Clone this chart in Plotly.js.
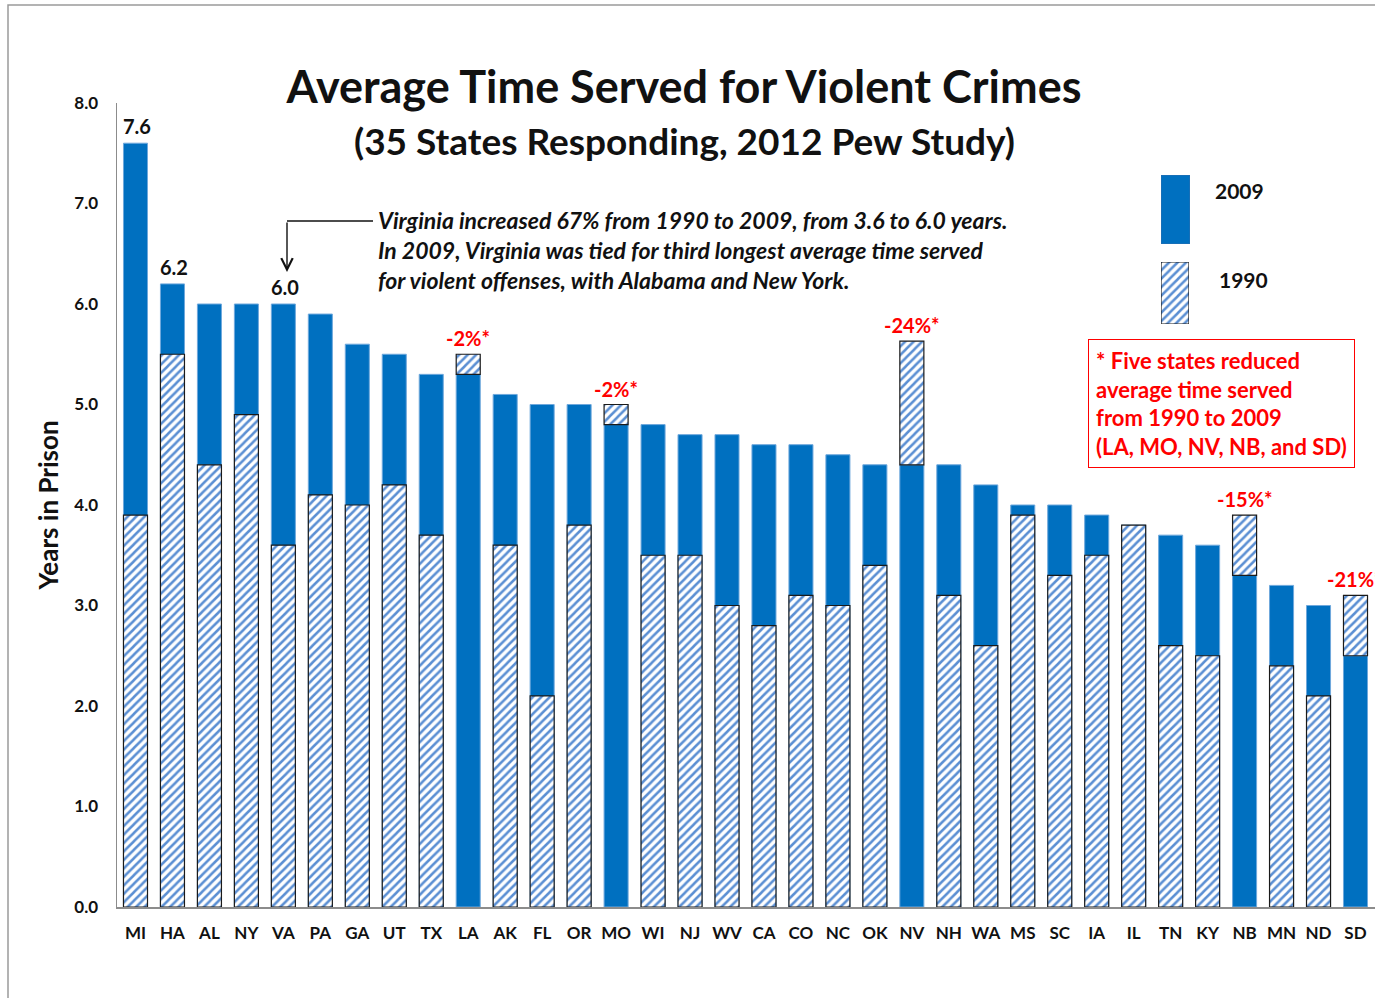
<!DOCTYPE html>
<html>
<head>
<meta charset="utf-8">
<script src="https://cdn.plot.ly/plotly-3.0.1.min.js"></script>
<style>
  html, body { margin: 0; padding: 0; background: #fff; }
  #chart { width: 1375px; height: 998px; }
</style>
</head>
<body>
<div id="chart"></div>
<script>
// Average time served (years) for violent offenses, by state
const states = ['MI','HA','AL','NY','VA','PA','GA','UT','TX','LA','AK','FL','OR','MO','WI','NJ','WV',
                'CA','CO','NC','OK','NV','NH','WA','MS','SC','IA','IL','TN','KY','NB','MN','ND','SD'];
const years2009 = [7.6,6.2,6.0,6.0,6.0,5.9,5.6,5.5,5.3,5.3,5.1,5.0,5.0,4.8,4.8,4.7,4.7,
                   4.6,4.6,4.5,4.4,4.4,4.4,4.2,4.0,4.0,3.9,3.8,3.7,3.6,3.3,3.2,3.0,2.5];
const years1990 = [3.9,5.5,4.4,4.9,3.6,4.1,4.0,4.2,3.7,5.5,3.6,2.1,3.8,5.0,3.5,3.5,3.0,
                   2.8,3.1,3.0,3.4,5.63,3.1,2.6,3.9,3.3,3.5,3.8,2.6,2.5,3.9,2.4,2.1,3.1];

// States whose 2009 value is printed above the bar
const valueLabelStates = ['MI','HA','VA'];
// States that reduced time served, with their printed change
const reducedStates = ['LA','MO','NV','NB','SD'];
const reducedText = ['-2%*','-2%*','-24%*','-15%*','-21%*'];

const yTickVals = [0,1,2,3,4,5,6,7,8];
const yTickText = ['0.0','1.0','2.0','3.0','4.0','5.0','6.0','7.0','8.0'];

const BLUE = '#0070C0';
const HATCH = '#5b8fd3';
const FONT = 'Lato, "Open Sans", sans-serif';

// Plot area in pixels (used to place paper-referenced decorations)
const W = 1375, H = 998;
const M = {l: 117, r: 0, t: 103, b: 91};
const PW = W - M.l - M.r, PH = H - M.t - M.b;
const px = x => (x - M.l) / PW;
const py = y => (H - M.b - y) / PH;

const hatchPattern = {shape: '/', fgcolor: HATCH, bgcolor: '#ffffff', size: 6, solidity: 0.42};

// 1990 bars: drawn from zero when below the 2009 value,
// otherwise only the part sitting above the 2009 bar
const base1990 = years1990.map((v, i) => v > years2009[i] ? years2009[i] : 0);
const height1990 = years1990.map((v, i) => v - base1990[i]);

const traces = [
  {
    type: 'bar', name: '2009', x: states, y: years2009,
    marker: {color: BLUE, line: {color: '#6fa8dc', width: 1}},
    hoverinfo: 'x+y'
  },
  {
    type: 'bar', name: '1990', x: states, y: height1990, base: base1990,
    marker: {color: '#ffffff', pattern: hatchPattern, line: {color: '#1a1a1a', width: 1.2}},
    customdata: years1990, hovertemplate: '%{x}: %{customdata}<extra>1990</extra>'
  },
  // legend swatches
  {
    type: 'bar', x: [0], y: [1], width: [1], xaxis: 'x2', yaxis: 'y2',
    marker: {color: BLUE, line: {color: '#2f6fae', width: 1}}, hoverinfo: 'skip', showlegend: false
  },
  {
    type: 'bar', x: [0], y: [1], width: [1], xaxis: 'x3', yaxis: 'y3',
    marker: {color: '#ffffff', pattern: hatchPattern, line: {color: '#1a1a1a', width: 1.2}},
    hoverinfo: 'skip', showlegend: false
  }
];

const annotations = [];

valueLabelStates.forEach(s => {
  const i = states.indexOf(s);
  annotations.push({
    x: s, y: years2009[i], xref: 'x', yref: 'y',
    text: years2009[i].toFixed(1), showarrow: false,
    yanchor: 'bottom', yshift: 3, xshift: 2,
    font: {family: FONT, size: 20, color: '#111', weight: 700}
  });
});

reducedStates.forEach((s, k) => {
  const i = states.indexOf(s);
  annotations.push({
    x: s, y: years1990[i], xref: 'x', yref: 'y',
    text: reducedText[k], showarrow: false,
    yanchor: 'bottom', yshift: 2,
    font: {family: FONT, size: 20, color: '#ff0000', weight: 700}
  });
});

// subtitle line under the main title
annotations.push({
  xref: 'paper', yref: 'paper', x: px(684), y: py(140), xanchor: 'center', yanchor: 'middle',
  text: '(35 States Responding, 2012 Pew Study)', showarrow: false,
  font: {family: FONT, size: 37, color: '#111', weight: 700}
});

// Virginia note
annotations.push({
  xref: 'paper', yref: 'paper', x: px(376), y: py(204),
  xanchor: 'left', yanchor: 'top', align: 'left', showarrow: false,
  text: '<i>Virginia increased 67% from 1990 to 2009, from 3.6 to 6.0 years.<br>' +
        'In 2009, Virginia was tied for third longest average time served<br>' +
        'for violent offenses, with Alabama and New York.</i>',
  font: {family: FONT, size: 23, color: '#111', weight: 700}
});
// arrow down to the Virginia label
annotations.push({
  xref: 'paper', yref: 'paper', x: px(287), y: py(272),
  axref: 'pixel', ayref: 'pixel', ax: 0, ay: -51,
  text: '', showarrow: true, arrowhead: 5, arrowsize: 1.6, arrowwidth: 1.4, arrowcolor: '#111'
});

// Legend labels
annotations.push({
  xref: 'paper', yref: 'paper', x: px(1213), y: py(191), xanchor: 'left', yanchor: 'middle',
  text: '2009', showarrow: false, font: {family: FONT, size: 21, color: '#111', weight: 700}
});
annotations.push({
  xref: 'paper', yref: 'paper', x: px(1217), y: py(279), xanchor: 'left', yanchor: 'middle',
  text: '1990', showarrow: false, font: {family: FONT, size: 21, color: '#111', weight: 700}
});

// Reduction note box
annotations.push({
  xref: 'paper', yref: 'paper', x: px(1088), y: py(339),
  xanchor: 'left', yanchor: 'top', align: 'left', showarrow: false,
  text: '* Five states reduced<br>average time served<br>from 1990 to 2009<br>(LA, MO, NV, NB, and SD)',
  font: {family: FONT, size: 22, color: '#ff0000', weight: 700},
  bordercolor: '#ff0000', borderwidth: 1, borderpad: 7, bgcolor: '#ffffff'
});

const shapes = [
  // outer frame
  {type: 'rect', xref: 'paper', yref: 'paper', x0: px(8), x1: px(1500), y0: py(1100), y1: py(5),
   line: {color: '#9a9a9a', width: 1.5}, layer: 'below'},
  // horizontal leg of the Virginia pointer
  {type: 'line', xref: 'paper', yref: 'paper', x0: px(287), x1: px(373), y0: py(221), y1: py(221),
   line: {color: '#111', width: 1.4}}
];

const layout = {
  width: W, height: H,
  margin: M,
  paper_bgcolor: '#ffffff', plot_bgcolor: '#ffffff',
  barmode: 'overlay', bargap: 0.35,
  showlegend: false,
  font: {family: FONT, color: '#111'},
  title: {
    text: 'Average Time Served for Violent Crimes',
    xref: 'container', yref: 'container', x: 684 / W, xanchor: 'center',
    y: 1 - 87 / H, yanchor: 'middle',
    font: {family: FONT, size: 45, color: '#111', weight: 700}
  },
  xaxis: {
    type: 'category', range: [-0.5, (PW / 36.97) - 0.5],
    showline: true, linecolor: '#8c8c8c', linewidth: 1.5, ticks: '',
    showgrid: false, zeroline: false, ticklabelstandoff: 10,
    tickfont: {family: FONT, size: 17, color: '#111', weight: 700}
  },
  yaxis: {
    range: [0, 8], tickvals: yTickVals, ticktext: yTickText,
    showline: true, linecolor: '#8c8c8c', linewidth: 1.5, ticks: '',
    showgrid: false, zeroline: false, ticklabelstandoff: 14,
    tickfont: {family: FONT, size: 17, color: '#111', weight: 700},
    title: {text: 'Years in Prison', standoff: 8,
            font: {family: FONT, size: 26, color: '#111', weight: 700}}
  },
  xaxis2: {domain: [px(1161), px(1190)], range: [-0.5, 0.5], anchor: 'y2', visible: false, fixedrange: true},
  yaxis2: {domain: [py(244), py(175)], range: [0, 1], anchor: 'x2', visible: false, fixedrange: true},
  xaxis3: {domain: [px(1161), px(1189)], range: [-0.5, 0.5], anchor: 'y3', visible: false, fixedrange: true},
  yaxis3: {domain: [py(324), py(262)], range: [0, 1], anchor: 'x3', visible: false, fixedrange: true},
  annotations: annotations,
  shapes: shapes
};

Plotly.newPlot('chart', traces, layout, {displayModeBar: false, staticPlot: true});
</script>
</body>
</html>
